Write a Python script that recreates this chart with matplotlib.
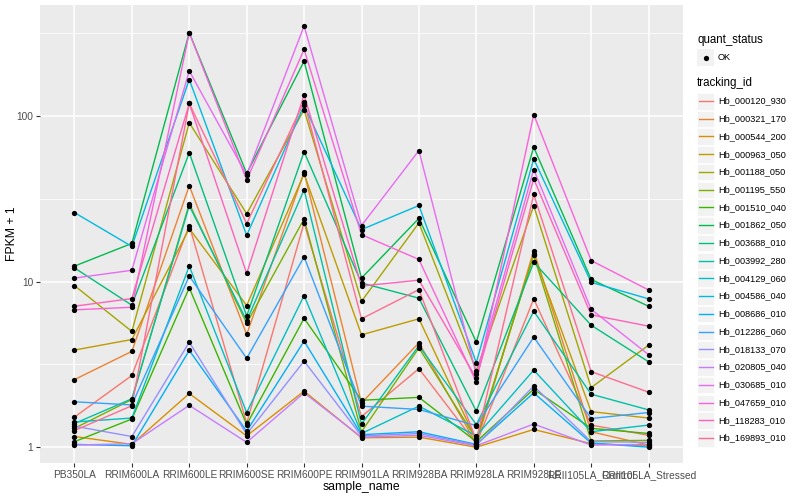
import numpy as np
import matplotlib
matplotlib.use("Agg")
import matplotlib.pyplot as plt
from matplotlib.patches import Rectangle
from matplotlib.lines import Line2D

plt.rcParams['font.family'] = ['Liberation Sans', 'DejaVu Sans']

samples = ["PB350LA", "RRIM600LA", "RRIM600LE", "RRIM600SE", "RRIM600PE", "RRIM901LA",
           "RRIM928BA", "RRIM928LA", "RRIM928LE", "RRII105LA_Control", "RRII105LA_Stressed"]

tracking_ids = ["Hb_000120_930", "Hb_000321_170", "Hb_000544_200", "Hb_000963_050",
                "Hb_001188_050", "Hb_001195_550", "Hb_001510_040", "Hb_001862_050",
                "Hb_003688_010", "Hb_003992_280", "Hb_004129_060", "Hb_004586_040",
                "Hb_008686_010", "Hb_012286_060", "Hb_018133_070", "Hb_020805_040",
                "Hb_030685_010", "Hb_047659_010", "Hb_118283_010", "Hb_169893_010"]

# FPKM + 1, one list per tracking_id, in sample order
hb_000120_930 = [1.52, 2.71, 21.8, 1.40, 22.6, 1.53, 2.98, 1.05, 7.87, 1.36, 1.18]
hb_000321_170 = [2.56, 3.79, 37.9, 4.8, 45.6, 1.85, 4.27, 1.05, 15.4, 1.24, 1.03]
hb_000544_200 = [1.16, 1.04, 2.11, 1.17, 2.18, 1.14, 1.15, 1.00, 1.28, 1.05, 1.02]
hb_000963_050 = [3.86, 4.47, 20.9, 7.17, 44.7, 4.77, 5.96, 1.10, 14.6, 1.64, 1.50]
hb_001188_050 = [9.46, 5.0, 91, 25.7, 109, 7.6, 22.6, 2.9, 28.7, 2.29, 4.13]
hb_001195_550 = [1.30, 1.94, 29.5, 5.6, 23.9, 1.24, 3.98, 1.12, 14.4, 1.09, 1.10]
hb_001510_040 = [1.08, 1.48, 9.17, 1.37, 6.0, 1.92, 2.0, 1.08, 2.24, 1.30, 1.21]
hb_001862_050 = [12.4, 17.0, 318, 45, 214, 10.5, 24.1, 4.31, 64.8, 10.3, 7.1]
hb_003688_010 = [12.1, 7.2, 60, 6.2, 60.7, 9.8, 7.94, 1.65, 13.1, 5.45, 3.28]
hb_003992_280 = [1.39, 1.96, 28.7, 5.8, 35.8, 1.38, 4.1, 1.37, 6.62, 2.09, 1.68]
hb_004129_060 = [1.42, 1.50, 12.4, 1.62, 8.24, 1.21, 1.77, 1.17, 2.92, 1.24, 1.36]
hb_004586_040 = [26.1, 16.3, 166, 19.0, 116, 20.6, 28.8, 3.24, 55, 9.9, 7.87]
hb_008686_010 = [1.04, 1.02, 3.84, 1.25, 4.37, 1.19, 1.24, 1.04, 2.13, 1.06, 1.00]
hb_012286_060 = [1.88, 1.80, 10.8, 3.44, 14.1, 1.77, 1.69, 1.35, 4.62, 1.49, 1.62]
hb_018133_070 = [1.34, 1.16, 4.3, 1.20, 3.31, 1.17, 1.21, 1.03, 2.34, 1.08, 1.07]
hb_020805_040 = [1.03, 1.05, 1.79, 1.07, 2.13, 1.15, 1.18, 1.02, 1.38, 1.03, 1.04]
hb_030685_010 = [10.5, 11.7, 187, 44, 349, 21.8, 61.8, 2.75, 47.5, 6.8, 3.62]
hb_047659_010 = [6.75, 7.0, 318, 41, 252, 19.2, 13.6, 2.47, 102, 13.4, 8.9]
hb_118283_010 = [7.1, 7.9, 119, 11.2, 134, 9.4, 10.2, 2.6, 41.7, 6.3, 5.38]
hb_169893_010 = [1.26, 1.78, 119, 22.4, 122, 5.96, 8.95, 1.10, 33.6, 2.86, 2.15]

series = [hb_000120_930, hb_000321_170, hb_000544_200, hb_000963_050, hb_001188_050,
          hb_001195_550, hb_001510_040, hb_001862_050, hb_003688_010, hb_003992_280,
          hb_004129_060, hb_004586_040, hb_008686_010, hb_012286_060, hb_018133_070,
          hb_020805_040, hb_030685_010, hb_047659_010, hb_118283_010, hb_169893_010]

# ggplot hue_pal()(20)
colors = ["#F8766D", "#EA8331", "#D89000", "#C09B00", "#A3A500", "#7CAE00", "#39B600",
          "#00BB4E", "#00BF7D", "#00C1A3", "#00BFC4", "#00BAE0", "#00B0F6", "#35A2FF",
          "#9590FF", "#C77CFF", "#E76BF3", "#FA62DB", "#FF62BC", "#FF6C91"]

W, H = 800, 500
fig = plt.figure(figsize=(8, 5), dpi=100)
ax = fig.add_axes([40 / W, 1 - 463 / H, (683 - 40) / W, (463 - 5) / H])
ax.set_facecolor("#EBEBEB")

x = np.arange(len(samples))
for vals, c in zip(series, colors):
    ax.plot(x, vals, color=c, lw=1.0, zorder=3)
for vals in series:
    ax.plot(x, vals, 'o', color='black', ms=3.8, mec='none', zorder=4)

ax.set_yscale('log')
allv = np.log10(np.concatenate(series))
lo, hi = allv.min(), allv.max()
pad = 0.05 * (hi - lo)
ax.set_ylim(10 ** (lo - pad * 0.75), 10 ** (hi + pad))
ax.set_xlim(-0.6, len(samples) - 1 + 0.6)

ax.set_yticks([1, 10, 100])
ax.set_yticklabels(["1", "10", "100"])
ax.set_yticks([10 ** 0.5, 10 ** 1.5, 10 ** 2.5], minor=True)
ax.yaxis.set_minor_formatter(plt.NullFormatter())
ax.set_xticks(x)
ax.set_xticklabels(samples)

ax.grid(True, which='major', color='white', lw=1.1, zorder=1)
ax.grid(True, which='minor', axis='y', color='white', lw=0.55, zorder=1)
ax.set_axisbelow(True)
for s in ax.spines.values():
    s.set_visible(False)
ax.tick_params(which='major', length=2.8, width=0.8, color='#333333',
               labelsize=7.3, labelcolor='#4D4D4D', pad=2)
ax.tick_params(which='minor', length=0)

ax.set_xlabel("sample_name", fontsize=8.8)
ax.xaxis.set_label_coords(0.5, -(481 - 463) / (463 - 5))
ax.set_ylabel("FPKM + 1", fontsize=8.8)
ax.yaxis.set_label_coords(-(40 - 18) / (683 - 40), 0.5)

# legends drawn in figure pixel coords
def fx(px):
    return px / W

def fy(py):
    return 1 - py / H

key = 17
kx = 697
fig.text(fx(kx), fy(40), "quant_status", fontsize=8.3, va='center', ha='left')
fig.patches.append(Rectangle((fx(kx), fy(49 + key)), key / W, key / H,
                             transform=fig.transFigure, facecolor='#F2F2F2', edgecolor='none'))
fig.lines.append(Line2D([fx(kx + key / 2)], [fy(57.5)], marker='o', color='black',
                        ms=3.8, mec='none', transform=fig.transFigure))
fig.text(fx(kx + key + 4), fy(57.5), "OK", fontsize=6.6, va='center', ha='left')

fig.text(fx(kx), fy(83), "tracking_id", fontsize=8.3, va='center', ha='left')
step = 17.74
for i, (tid, c) in enumerate(zip(tracking_ids, colors)):
    cy = 101 + i * step
    fig.patches.append(Rectangle((fx(kx), fy(cy + key / 2)), key / W, (key - 0.5) / H,
                                 transform=fig.transFigure, facecolor='#F2F2F2',
                                 edgecolor='white', lw=0.5))
    fig.lines.append(Line2D([fx(kx + 1.5), fx(kx + key - 1.5)], [fy(cy), fy(cy)], color=c,
                            lw=1.0, transform=fig.transFigure))
    fig.text(fx(kx + key + 4), fy(cy), tid, fontsize=6.6, va='center', ha='left')

fig.savefig("out.png", dpi=100)
